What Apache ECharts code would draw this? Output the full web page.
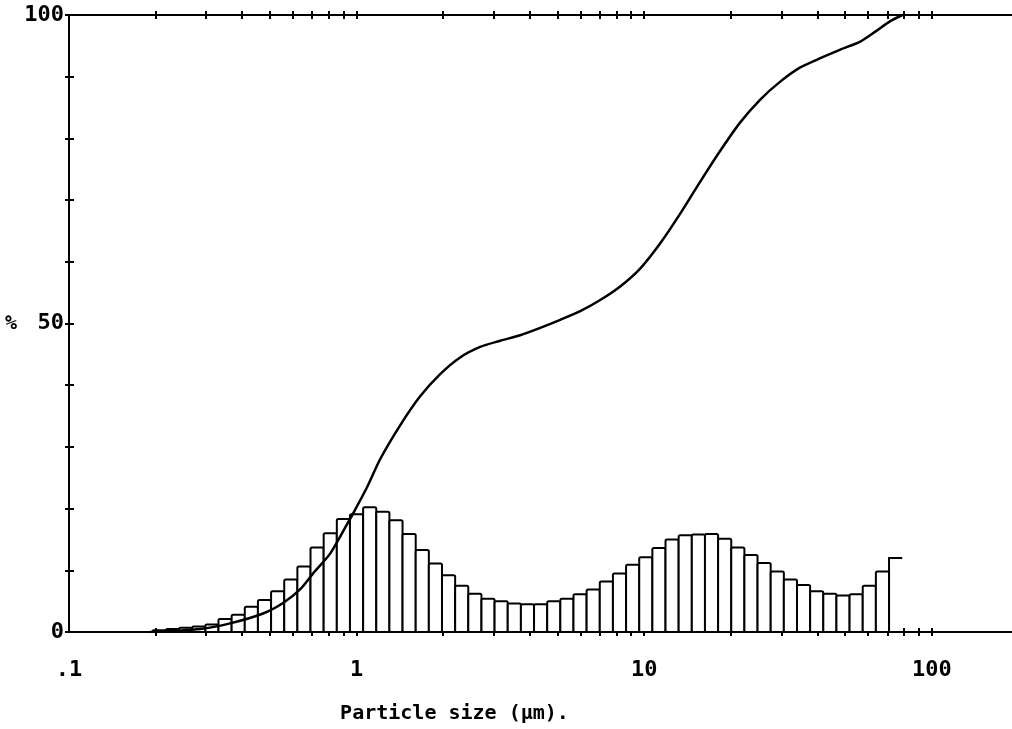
<!DOCTYPE html>
<html>
<head>
<meta charset="utf-8">
<script src="https://cdn.jsdelivr.net/npm/echarts@6/dist/echarts.min.js"></script>
<style>html,body{margin:0;padding:0;background:#fff}#c{width:1012px;height:729px}</style>
</head>
<body>
<div id="c"></div>
<script>
// Histogram bin edges (particle size, µm)
const binEdges = [0.1955,0.2172,0.2413,0.2681,0.2979,0.3309,0.3677,0.4085,0.4538,0.5042,
  0.5602,0.6224,0.6914,0.7682,0.8535,0.9482,1.0535,1.1704,1.3003,1.4446,
  1.605,1.783,1.981,2.201,2.445,2.717,3.018,3.353,3.726,4.139,
  4.599,5.109,5.676,6.306,7.006,7.784,8.648,9.608,10.674,11.859,
  13.175,14.638,16.263,18.068,20.073,22.301,24.777,27.527,30.583,33.978,
  37.749,41.939,46.594,51.766,57.512,63.896,70.989,78.869];
// Histogram bar heights (%)
const freq = [0.3,0.5,0.7,0.9,1.2,2.1,2.8,4.1,5.2,6.6,
  8.5,10.6,13.7,16.0,18.3,19.1,20.2,19.5,18.1,15.9,
  13.3,11.1,9.2,7.5,6.2,5.4,5.0,4.6,4.5,4.5,
  5.0,5.4,6.1,6.9,8.2,9.5,10.9,12.1,13.6,15.0,
  15.7,15.8,15.9,15.1,13.7,12.5,11.2,9.8,8.5,7.6,
  6.6,6.2,5.9,6.1,7.5,9.8,12.0];
// Cumulative curve
const cumSize = [0.191,0.286,0.363,0.473,0.555,0.636,0.706,0.809,0.927,0.972,1.088,1.207,1.417,1.663,1.952,2.291,2.689,3.156,3.704,4.348,5.103,5.99,7.03,8.25,9.68,11.37,13.34,15.66,18.38,21.57,25.32,29.72,34.88,40.94,48.05,56.4,63.6,71.7,78.98];
const cumPct = [0,0.5,1.4,3.0,4.7,6.9,9.5,12.7,17.5,19.2,23.5,28.0,33.5,38.2,41.8,44.5,46.2,47.2,48.1,49.3,50.6,52.0,53.8,56.0,58.9,63.0,67.8,73.0,78.0,82.6,86.3,89.2,91.5,93.0,94.4,95.7,97.3,99.0,100];
// Axis ticks and labels
const xTickValues = [0.2,0.3,0.4,0.5,0.6,0.7,0.8,0.9,1,2,3,4,5,6,7,8,9,10,20,30,40,50,60,70,80,90,100];
const xLabelValues = [0.1,1,10,100];
const yLabelValues = [0,50,100];
const xTitle = 'Particle size (μm).';
const yTitle = '%';

const FONT = "'DejaVu Sans Mono', monospace";
const xMin = 0.1, xMax = 190;

const histData = freq.map((v, i) => [binEdges[i], binEdges[i + 1], v]);
const cumData = cumSize.map((s, i) => [s, cumPct[i]]);

function xAxisBase(pos, inside, showLine, showLabel) {
  return {
    type: 'log', logBase: 10, min: xMin, max: xMax, position: pos, gridIndex: 0,
    axisLine: { show: showLine, lineStyle: { color: '#000', width: 2 } },
    axisTick: { show: true, inside: inside, length: 4, customValues: xTickValues, lineStyle: { color: '#000', width: 2 } },
    axisLabel: showLabel ? {
      show: true, customValues: xLabelValues, margin: 27,
      formatter: v => (Math.abs(v - 0.1) < 1e-9 ? '.1' : String(Math.round(v))),
      fontFamily: FONT, fontWeight: 'bold', fontSize: 22, color: '#000'
    } : { show: false },
    splitLine: { show: false }, minorTick: { show: false }
  };
}

const xAxes = [
  Object.assign(xAxisBase('bottom', false, true, true), {
    name: xTitle, nameLocation: 'middle', nameGap: 72,
    nameTextStyle: { fontFamily: FONT, fontWeight: 'bold', fontSize: 20, color: '#000', padding: [0, 172, 0, 0] }
  }),
  xAxisBase('bottom', true, false, false),
  xAxisBase('top', false, true, false),
  xAxisBase('top', true, false, false)
];

const yAxes = [
  {
    type: 'value', min: 0, max: 100, interval: 10, position: 'left',
    axisLine: { show: true, lineStyle: { color: '#000', width: 2 } },
    axisTick: { show: true, inside: false, length: 4, lineStyle: { color: '#000', width: 2 } },
    axisLabel: {
      margin: 5, formatter: v => (yLabelValues.indexOf(v) >= 0 ? String(v) : ''),
      fontFamily: FONT, fontWeight: 'bold', fontSize: 22, color: '#000'
    },
    splitLine: { show: false },
    name: yTitle, nameLocation: 'middle', nameRotate: 0, nameGap: 52,
    nameTextStyle: { fontFamily: FONT, fontWeight: 'bold', fontSize: 20, color: '#000' }
  },
  {
    type: 'value', min: 0, max: 100, interval: 10, position: 'left',
    axisLine: { show: false },
    axisTick: { show: true, inside: true, length: 5, lineStyle: { color: '#000', width: 2 } },
    axisLabel: { show: false }, splitLine: { show: false }
  }
];

const chart = echarts.init(document.getElementById('c'), null, { renderer: 'canvas' });
chart.setOption({
  backgroundColor: '#fff',
  animation: false,
  grid: { left: 69, right: 0, top: 15, bottom: 93, containLabel: false },
  xAxis: xAxes,
  yAxis: yAxes,
  series: [
    {
      type: 'custom', xAxisIndex: 0, yAxisIndex: 0,
      data: histData,
      encode: { x: [0, 1], y: 2 },
      z: 2,
      renderItem: function (params, api) {
        const lo = api.value(0), hi = api.value(1), v = api.value(2);
        const p0 = api.coord([lo, v]);
        const p1 = api.coord([hi, 0]);
        if (params.dataIndex === freq.length - 1) {
          return {
            type: 'polyline',
            shape: { points: [[p0[0], p1[1]], [p0[0], p0[1]], [p1[0], p0[1]]] },
            style: { stroke: '#000', fill: null, lineWidth: 2 }
          };
        }
        return {
          type: 'rect',
          shape: { x: p0[0], y: p0[1], width: p1[0] - p0[0], height: p1[1] - p0[1], r: 1.5 },
          style: { fill: '#fff', stroke: '#000', lineWidth: 2 }
        };
      }
    },
    {
      type: 'line', xAxisIndex: 0, yAxisIndex: 0,
      data: cumData, showSymbol: false, symbol: 'none', smooth: 0.25,
      lineStyle: { color: '#000', width: 2.5 }, z: 5
    }
  ]
});
</script>
</body>
</html>
